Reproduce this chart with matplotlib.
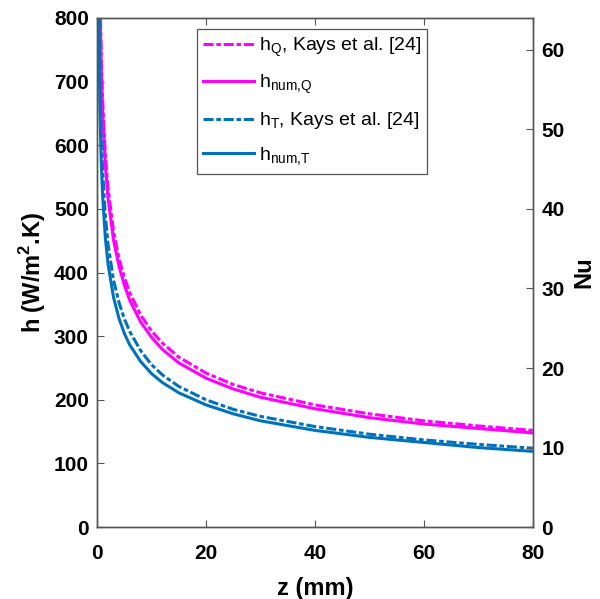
import numpy as np
import matplotlib
matplotlib.use('Agg')
import matplotlib.pyplot as plt

plt.rcParams['font.family'] = ['Liberation Sans', 'DejaVu Sans']
plt.rcParams['mathtext.fontset'] = 'custom'
plt.rcParams['mathtext.rm'] = 'Liberation Sans'
plt.rcParams['mathtext.bf'] = 'Liberation Sans:bold'

# ============================================
# 数据
# ============================================
z_mm = [0.1, 0.25, 0.5, 0.75, 1, 1.5, 2, 3, 4, 5, 6, 8, 10, 12, 15, 20, 25, 30, 40, 50, 60, 70, 80]
h_Q_kays = [1440, 1063, 844, 737, 670, 585, 532, 465, 422, 392, 368, 333, 308, 289, 267, 242, 224, 211, 192, 178, 167, 159, 152]
h_num_Q = [1400, 1032, 819, 715, 650, 568, 516, 451, 410, 380, 356, 322, 298, 279, 258, 234, 217, 204, 186, 172, 162, 155, 148]
h_T_kays = [1207, 889, 705, 616, 560, 489, 444, 388, 353, 327, 307, 277, 255, 239, 221, 200, 185, 174, 158, 146, 137, 130, 124]
h_num_T = [1120, 825, 655, 572, 520, 454, 413, 361, 328, 304, 286, 260, 241, 227, 211, 192, 178, 167, 152, 141, 133, 125, 119]

MAGENTA = '#FF00FF'
BLUE = '#0072BD'
LW = 2.2
dashdot = (0, (3.3, 0.9, 1.5, 0.9))
AXCOL = '#555555'

fig = plt.figure(figsize=(6.0, 5.99), dpi=100)
ax = fig.add_axes([0.162, 0.12, 0.726, 0.85])

ax.plot(z_mm, h_Q_kays, color=MAGENTA, lw=LW, linestyle=dashdot, label=r'h$_\mathregular{Q}$, Kays et al. [24]')
ax.plot(z_mm, h_num_Q, color=MAGENTA, lw=LW, label=r'h$_\mathregular{num{,}Q}$')
ax.plot(z_mm, h_T_kays, color=BLUE, lw=LW, linestyle=dashdot, label=r'h$_\mathregular{T}$, Kays et al. [24]')
ax.plot(z_mm, h_num_T, color=BLUE, lw=LW, label=r'h$_\mathregular{num{,}T}$')

ax.set_xlim(0, 80)
ax.set_ylim(0, 800)
ax.set_xticks(np.arange(0, 81, 20))
ax.set_yticks(np.arange(0, 801, 100))
ax.set_xlabel('z (mm)', fontsize=17, fontweight='bold', labelpad=10)
ax.set_ylabel(r'h (W/m$^\mathbf{2}$.K)', fontsize=17, fontweight='bold', labelpad=4)

for spine in ax.spines.values():
    spine.set_color(AXCOL)
    spine.set_linewidth(1.0)
ax.tick_params(direction='in', length=5, width=0.8, color=AXCOL,
               labelsize=15, top=True, right=False)
ax.tick_params(axis='x', pad=12)
ax.tick_params(axis='y', pad=6)
for lab in ax.get_xticklabels() + ax.get_yticklabels():
    lab.set_fontweight('bold')

# 右侧 Nu 轴
ax2 = ax.twinx()
ax2.set_ylim(0, 64)
ax2.set_yticks(np.arange(0, 61, 10))
ax2.set_ylabel('Nu', fontsize=17, fontweight='bold', rotation=90, labelpad=6)
ax2.tick_params(direction='in', length=5, width=0.8, color=AXCOL, labelsize=15, pad=6)
for lab in ax2.get_yticklabels():
    lab.set_fontweight('bold')
for spine in ax2.spines.values():
    spine.set_color(AXCOL)
    spine.set_linewidth(1.0)

leg = ax.legend(loc='upper left', bbox_to_anchor=(0.229, 0.978), fontsize=14,
                frameon=True, fancybox=False, edgecolor=AXCOL, framealpha=1,
                handlelength=2.6, handletextpad=0.25, labelspacing=0.72,
                borderpad=0.32, borderaxespad=0)
leg.get_frame().set_linewidth(0.9)

plt.savefig('out.png', dpi=100)
